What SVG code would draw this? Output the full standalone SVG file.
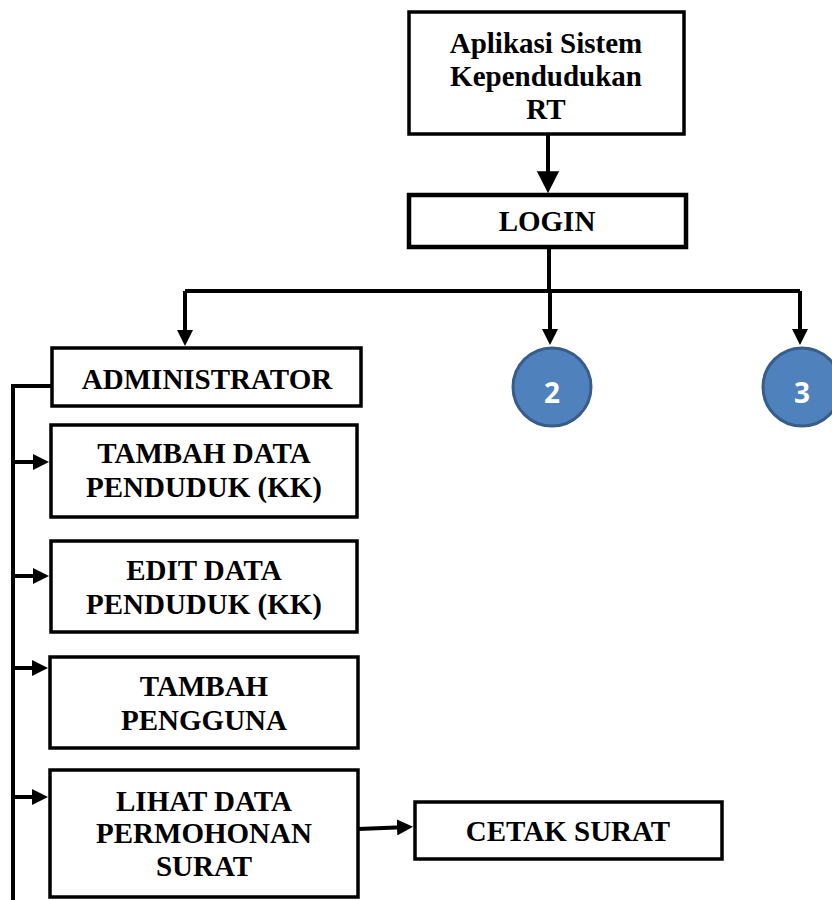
<svg xmlns="http://www.w3.org/2000/svg" width="832" height="900" viewBox="0 0 832 900">
<style>
.box{fill:#fff;stroke:#000;stroke-width:3.5}
.t{font-family:"Liberation Serif","Times New Roman",serif;font-weight:bold;font-size:29px;fill:#000;text-anchor:middle}
.c{fill:#4f81bd;stroke:#385d8a;stroke-width:3}
.ct{font-family:"Open Sans","Liberation Sans",sans-serif;font-weight:bold;font-size:28px;fill:#fff;text-anchor:middle}
.ln{fill:none;stroke:#000;stroke-width:4}
</style>
<defs>
<marker id="ah" markerWidth="4" markerHeight="4" refX="3" refY="2" orient="auto" markerUnits="strokeWidth">
<path d="M0,0 L4,2 L0,4 Z" fill="#000"/>
</marker>
<marker id="ahb" markerWidth="5.5" markerHeight="5.6" refX="4.2" refY="2.8" orient="auto" markerUnits="strokeWidth">
<path d="M0,0 L5.5,2.8 L0,5.6 Z" fill="#000"/>
</marker>
</defs>
<rect width="832" height="900" fill="#fff"/>
<g id="connectors">
<path class="ln" d="M548,134 V188" marker-end="url(#ahb)"/>
<path class="ln" d="M549,247 V291"/>
<path class="ln" d="M185,291 H800"/>
<path class="ln" d="M185,291 V342" marker-end="url(#ah)"/>
<path class="ln" d="M550,291 V341" marker-end="url(#ah)"/>
<path class="ln" d="M800,291 V341" marker-end="url(#ah)"/>
<path class="ln" d="M52,386 H13 V900"/>
<path class="ln" d="M13,462 H45" marker-end="url(#ah)"/>
<path class="ln" d="M13,576 H45" marker-end="url(#ah)"/>
<path class="ln" d="M13,668 H44" marker-end="url(#ah)"/>
<path class="ln" d="M13,797 H44" marker-end="url(#ah)"/>
<path class="ln" d="M358,829 L409,827" marker-end="url(#ah)"/>
</g>
<g id="app">
<rect class="box" x="409" y="12" width="275" height="122"/>
<text class="t" x="546" y="53">Aplikasi Sistem</text>
<text class="t" x="546" y="86">Kependudukan</text>
<text class="t" x="546" y="119">RT</text>
</g>
<g id="login">
<rect class="box" x="409" y="195" width="277" height="52" style="stroke-width:4.5"/>
<text class="t" x="547" y="231">LOGIN</text>
</g>
<g id="admin">
<rect class="box" x="52" y="348" width="309" height="58"/>
<text class="t" x="207" y="389">ADMINISTRATOR</text>
</g>
<g id="n2">
<circle class="c" cx="552" cy="387" r="39"/>
<text class="ct" x="552" y="403">2</text>
</g>
<g id="n3">
<circle class="c" cx="802" cy="387" r="39"/>
<text class="ct" x="802" y="403">3</text>
</g>
<g id="tambah-data">
<rect class="box" x="51" y="425" width="306" height="92"/>
<text class="t" x="204" y="463">TAMBAH DATA</text>
<text class="t" x="204" y="497">PENDUDUK (KK)</text>
</g>
<g id="edit-data">
<rect class="box" x="51" y="541" width="306" height="91"/>
<text class="t" x="204" y="580">EDIT DATA</text>
<text class="t" x="204" y="614">PENDUDUK (KK)</text>
</g>
<g id="tambah-pengguna">
<rect class="box" x="50" y="657" width="308" height="91"/>
<text class="t" x="204" y="696">TAMBAH</text>
<text class="t" x="204" y="730">PENGGUNA</text>
</g>
<g id="lihat-data">
<rect class="box" x="50" y="770" width="308" height="127"/>
<text class="t" x="204" y="811">LIHAT DATA</text>
<text class="t" x="204" y="843">PERMOHONAN</text>
<text class="t" x="204" y="876">SURAT</text>
</g>
<g id="cetak">
<rect class="box" x="415" y="802" width="307" height="57"/>
<text class="t" x="568" y="841">CETAK SURAT</text>
</g>
</svg>
